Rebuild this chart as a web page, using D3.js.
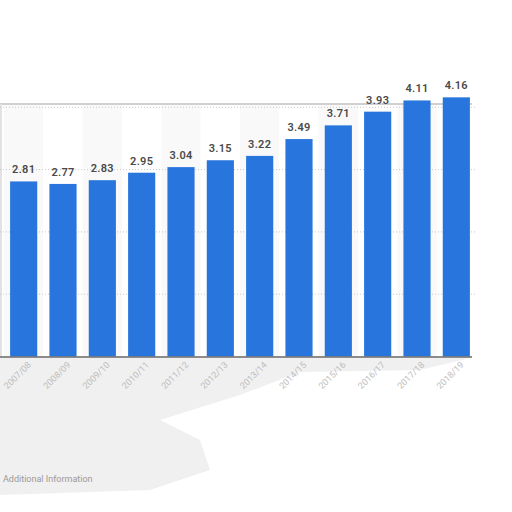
<!DOCTYPE html>
<html>
<head>
<meta charset="utf-8">
<script src="https://cdn.jsdelivr.net/npm/d3@7"></script>
<style>
  body { margin: 0; background: #fff; }
  svg { display: block; font-family: Roboto, "Noto Sans", sans-serif; }
</style>
</head>
<body>
<svg class="chart"></svg>
<script>
// data
var seasons = ['2007/08', '2008/09', '2009/10', '2010/11', '2011/12', '2012/13',
               '2013/14', '2014/15', '2015/16', '2016/17', '2017/18', '2018/19'];
var values = [2.81, 2.77, 2.83, 2.95, 3.04, 3.15, 3.22, 3.49, 3.71, 3.93, 4.11, 4.16];
var yTicks = [0, 1, 2, 3, 4];

var svgWidth = 512;
var svgHeight = 512;

var svg = d3.select('.chart')
  .attr('width', svgWidth)
  .attr('height', svgHeight);

var plotLeft = 4, plotRight = 476, plotTop = 104, plotBottom = 356.5;

var xScale = d3.scaleBand()
  .domain(seasons)
  .range([plotLeft, plotRight])
  .paddingInner(0.31)
  .paddingOuter(0.155);

var yScale = d3.scaleLinear()
  .domain([0, 4])
  .range([plotBottom, plotBottom - 4 * 62.3]);

// faint grey wash under the chart (lower left)
svg.append('path')
  .attr('d', 'M0,358 L470,358 L420,370 L300,372 L240,395 L160,420 L200,440 L210,470 L150,490 L0,495 Z')
  .attr('fill', '#ececec')
  .attr('opacity', 0.8);

// column stripes
var step = xScale.step();
svg.selectAll('rect.stripe')
  .data(seasons)
  .enter()
  .append('rect')
  .attr('class', 'stripe')
  .attr('x', function(d) { return xScale(d) - step * xScale.paddingInner() / 2; })
  .attr('y', plotTop)
  .attr('width', step)
  .attr('height', plotBottom - plotTop)
  .attr('fill', function(d, i) { return i % 2 === 0 ? '#f9f9f9' : '#ffffff'; });

// top border and left edge
svg.append('line')
  .attr('x1', 0).attr('x2', plotRight - 4)
  .attr('y1', plotTop).attr('y2', plotTop)
  .attr('stroke', '#d0d0d0')
  .attr('stroke-width', 2);
svg.append('line')
  .attr('x1', 1).attr('x2', 1)
  .attr('y1', plotTop).attr('y2', plotBottom)
  .attr('stroke', '#e2e2e2')
  .attr('stroke-width', 2);

// dotted grid lines
svg.selectAll('line.grid')
  .data(yTicks.slice(1))
  .enter()
  .append('line')
  .attr('class', 'grid')
  .attr('x1', 0)
  .attr('x2', plotRight)
  .attr('y1', function(d) { return yScale(d); })
  .attr('y2', function(d) { return yScale(d); })
  .attr('stroke', '#c8c8c8')
  .attr('stroke-dasharray', '1,2');

// bars
svg.selectAll('rect.bar')
  .data(values)
  .enter()
  .append('rect')
  .attr('class', 'bar')
  .attr('x', function(d, i) { return xScale(seasons[i]); })
  .attr('y', function(d) { return yScale(d); })
  .attr('width', xScale.bandwidth())
  .attr('height', function(d) { return yScale(0) - yScale(d); })
  .attr('fill', '#2876dd');

// value labels
svg.selectAll('text.value')
  .data(values)
  .enter()
  .append('text')
  .attr('class', 'value')
  .attr('x', function(d, i) { return xScale(seasons[i]) + xScale.bandwidth() / 2; })
  .attr('y', function(d) { return yScale(d) - 8; })
  .attr('text-anchor', 'middle')
  .attr('font-size', 11)
  .attr('font-weight', 600)
  .attr('letter-spacing', 0.3)
  .attr('fill', '#4a4a4a')
  .text(function(d) { return d.toFixed(2); });

// baseline
svg.append('line')
  .attr('x1', 0).attr('x2', plotRight - 4)
  .attr('y1', plotBottom + 0.5).attr('y2', plotBottom + 0.5)
  .attr('stroke', '#666')
  .attr('stroke-width', 1.5);

// x axis labels, rotated
svg.selectAll('text.season')
  .data(seasons)
  .enter()
  .append('text')
  .attr('class', 'season')
  .attr('transform', function(d) {
    return 'translate(' + (xScale(d) + xScale.bandwidth() / 2 + 8) + ',' + (plotBottom + 9) + ') rotate(-45)';
  })
  .attr('text-anchor', 'end')
  .attr('font-size', 9)
  .attr('fill', '#bdbdbd')
  .text(function(d) { return d; });

svg.append('text')
  .attr('x', 3)
  .attr('y', 482)
  .attr('font-size', 9)
  .attr('fill', '#9a9a9a')
  .text('Additional Information');
</script>
</body>
</html>
